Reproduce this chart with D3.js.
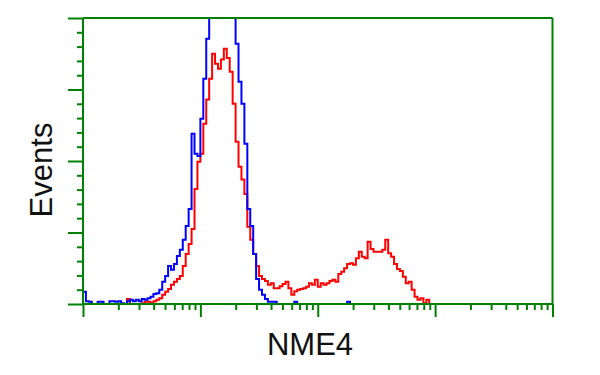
<!DOCTYPE html>
<html><head><meta charset="utf-8">
<script src="https://cdn.jsdelivr.net/npm/d3@7"></script>
<style>body{margin:0;background:#fff}svg{display:block}</style>
</head><body>
<svg id="c" width="600" height="375"></svg>
<script>
// Histogram bins: uniform in log10 space starting at 10^0, width 0.025 decades
const binStartLog = 0;
const binWidthLog = 0.025;
const xDecades = [1, 10, 100, 1000, 10000];
const yMajorTicks = [0, 100, 200, 300, 400];
const xLabel = "NME4";
const yLabel = "Events";
// Control (blue) counts per bin
const blueCounts = [17,4,3,0,0,3,3,0,0,4,4,3,4,1,0,4,6,4,6,4,7,6,8,10,14,15,20,31,39,53,48,56,67,76,90,109,133,238,210,207,259,315,371,406,434,462,483,490,483,469,441,413,364,311,280,224,133,109,70,35,20,13,7,3,3,3,0,0,0,0,0,0,3,0,0,0,0,0,0,0,0,0,0,0,0,0,0,0,0,0,3,0,0,0];
// NME4 transfected (red) counts per bin
const redCounts = [0,0,0,0,0,0,0,0,0,0,0,0,0,0,0,7,0,0,0,0,1,3,3,1,4,6,8,13,17,21,27,31,35,39,53,70,84,105,161,199,210,252,286,315,350,336,329,342,357,344,325,280,227,192,174,154,108,90,70,53,39,35,32,27,29,22,22,25,28,31,22,13,18,20,21,22,24,29,27,34,24,29,27,29,32,34,31,42,45,50,56,57,55,64,73,66,64,87,77,73,73,73,76,90,71,66,56,49,46,38,29,31,20,10,6,8,1,6,0];

const svg = d3.select("#c");
const green = "#008000";
const L = 83, R = 552.5, T = 18, B = 304;
const x = d3.scaleLog().domain([1, 10000]).range([L, R]);
const y = d3.scaleLinear().domain([0, 400]).range([B, T]);

svg.append("defs").append("clipPath").attr("id","clip")
  .append("rect").attr("x", L).attr("y", T).attr("width", R - L).attr("height", B - T + 2);

function stepData(counts){
  const pts = counts.map((c,i)=>({x: Math.pow(10, binStartLog + i*binWidthLog), c}));
  pts.push({x: Math.pow(10, binStartLog + counts.length*binWidthLog), c: counts[counts.length-1]});
  return pts;
}
const line = d3.line().x(d=>x(d.x)).y(d=>y(d.c)).curve(d3.curveStepAfter);

const g = svg.append("g").attr("clip-path","url(#clip)");
g.append("path").datum(stepData(redCounts)).attr("d", line)
  .attr("fill","none").attr("stroke","#ff0000").attr("stroke-width",2);
g.append("path").datum(stepData(blueCounts)).attr("d", line)
  .attr("fill","none").attr("stroke","#0000ff").attr("stroke-width",2);

// minor ticks
const xMinor = [];
for (let d = 1; d < 10000; d *= 10) for (let k = 2; k <= 9; k++) xMinor.push(d*k);
const yMinor = [];
for (let v = 0; v < 400; v += 100) for (let k = 1; k <= 4; k++) yMinor.push(v + k*20);

function styleAxis(sel){
  sel.select(".domain").remove();
  sel.selectAll("line").attr("stroke", green).attr("stroke-width", 2);
}
svg.append("g").attr("transform",`translate(0,${B})`)
  .call(d3.axisBottom(x).tickValues(xMinor).tickSize(6).tickFormat("")).call(styleAxis);
svg.append("g").attr("transform",`translate(0,${B})`)
  .call(d3.axisBottom(x).tickValues(xDecades).tickSize(13).tickFormat("")).call(styleAxis);
svg.append("g").attr("transform",`translate(${L},0)`)
  .call(d3.axisLeft(y).tickValues(yMinor).tickSize(6).tickFormat("")).call(styleAxis);
svg.append("g").attr("transform",`translate(${L},0)`)
  .call(d3.axisLeft(y).tickValues(yMajorTicks).tickSize(15).tickFormat("")).call(styleAxis);

// frame
const frame = svg.append("g").attr("stroke", green).attr("stroke-width", 2).attr("fill","none");
frame.append("line").attr("x1", L).attr("x2", L).attr("y1", T).attr("y2", B);
frame.append("line").attr("x1", L).attr("x2", R).attr("y1", B).attr("y2", B);
frame.append("line").attr("x1", L).attr("x2", R).attr("y1", T).attr("y2", T);
frame.append("line").attr("x1", R).attr("x2", R).attr("y1", T).attr("y2", B);

svg.append("text").attr("x", 310).attr("y", 355).attr("text-anchor","middle")
  .attr("font-family","Liberation Sans, Arial, sans-serif").attr("font-size", 31)
  .attr("fill","#111").text(xLabel);
svg.append("text").attr("transform","translate(52,170) rotate(-90)").attr("text-anchor","middle")
  .attr("font-family","Liberation Sans, Arial, sans-serif").attr("font-size", 31)
  .attr("fill","#111").text(yLabel);
</script>
</body></html>
